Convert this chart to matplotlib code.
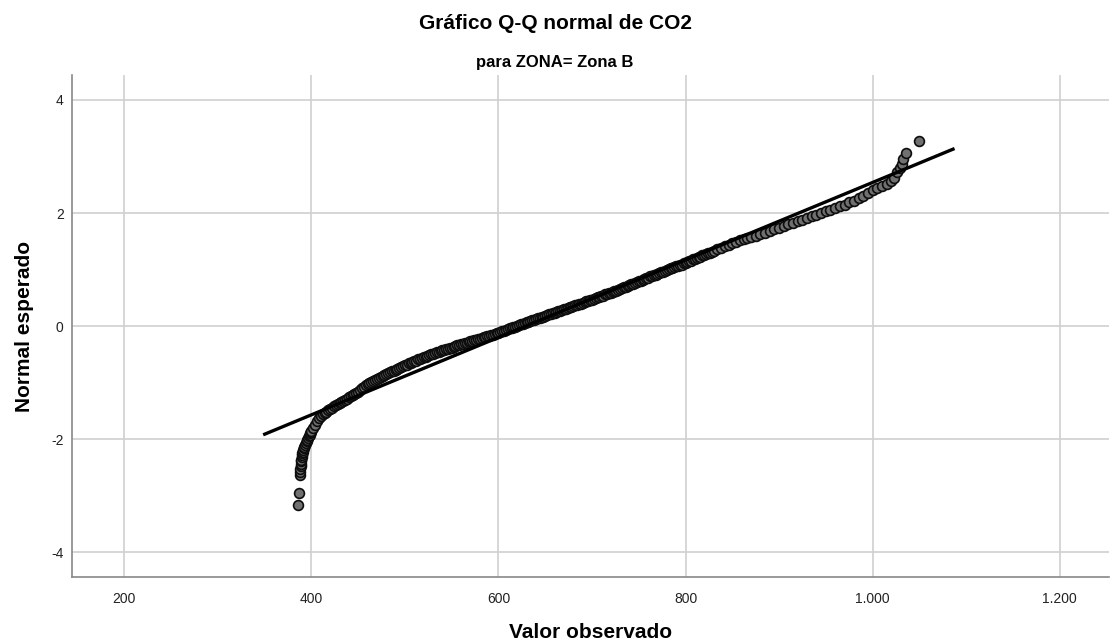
import numpy as np
import matplotlib
matplotlib.use("Agg")
import matplotlib.pyplot as plt

plt.rcParams['font.family'] = ['Liberation Sans', 'DejaVu Sans']
plt.rcParams['axes.unicode_minus'] = False

observed = [
    385.4, 386.4, 387.5, 387.8, 388, 388.3, 388.5, 388.8, 389, 389.4, 389.8, 390.3,
    390.8, 391.3, 391.9, 392.5, 393.2, 394, 394.8, 395.6, 396.4, 397.2, 398, 398.8, 399.5,
    400, 402, 404, 406, 408, 410, 412, 414, 416, 418, 420, 422, 424, 426, 428, 430,
    432, 434, 436, 438, 440, 442, 444, 446, 448, 450, 452, 454, 456, 458, 460, 462,
    464, 466, 468, 470, 472, 474, 476, 478, 480, 482, 484, 486, 488, 490, 492, 494,
    496, 498, 500, 502, 504, 506, 508, 510, 512, 514, 516, 518, 520, 522, 524, 526,
    528, 530, 532, 534, 536, 538, 540, 542, 544, 546, 548, 550, 552, 554, 556, 558,
    560, 562, 564, 566, 568, 570, 572, 574, 576, 578, 580, 582, 584, 586, 588, 590,
    592, 594, 596, 598, 600, 602, 604, 606, 608, 610, 612, 614, 616, 618, 620, 622,
    624, 626, 628, 630, 632, 634, 636, 638, 640, 642, 644, 646, 648, 650, 652, 654,
    656, 658, 660, 662, 664, 666, 668, 670, 672, 674, 676, 678, 680, 682, 684, 686,
    688, 690, 692, 694, 696, 698, 700, 702, 704, 706, 708, 710, 712, 714, 716, 718,
    720, 722, 724, 726, 728, 730, 732, 734, 736, 738, 740, 742, 744, 746, 748, 750,
    752, 754, 756, 758, 760, 762, 764, 766, 768, 770, 772, 774, 776, 778, 780, 782,
    784, 786, 788, 790, 792, 794, 796, 798, 800, 802, 804, 806, 808, 810, 812, 814,
    816, 818, 820, 822, 824, 826, 828, 830, 834, 838, 842, 846, 850, 854, 858, 862,
    866, 870, 875, 880, 885, 890, 895, 900, 905, 910, 915, 920, 925, 930, 935, 940,
    945, 950, 955, 960, 965, 970, 975, 980, 985, 990, 995, 1000, 1005, 1010, 1015,
    1020, 1023, 1026, 1029, 1031, 1033, 1036, 1050,
]
# expected normal scores, same order
expected = [
    -3.17, -2.96, -2.64, -2.58, -2.52, -2.47, -2.43, -2.39, -2.36, -2.32, -2.28, -2.25,
    -2.22, -2.19, -2.16, -2.13, -2.10, -2.07, -2.04, -2.01, -1.98, -1.95, -1.92, -1.89, -1.87,
    -1.86, -1.80, -1.74, -1.68, -1.63, -1.59, -1.56, -1.53, -1.51, -1.48, -1.46, -1.44,
    -1.42, -1.40, -1.38, -1.36, -1.34, -1.32, -1.30, -1.28, -1.26, -1.24, -1.22, -1.20,
    -1.18, -1.16, -1.13, -1.10, -1.08, -1.05, -1.03, -1.01, -0.99, -0.97, -0.95, -0.93,
    -0.92, -0.90, -0.88, -0.87, -0.85, -0.83, -0.82, -0.80, -0.79, -0.77, -0.76, -0.74,
    -0.72, -0.71, -0.69, -0.68, -0.66, -0.65, -0.64, -0.62, -0.61, -0.59, -0.58, -0.56,
    -0.55, -0.54, -0.53, -0.51, -0.50, -0.49, -0.48, -0.46, -0.45, -0.44, -0.43, -0.42,
    -0.41, -0.40, -0.39, -0.38, -0.37, -0.35, -0.34, -0.33, -0.32, -0.31, -0.30, -0.29,
    -0.28, -0.27, -0.26, -0.25, -0.24, -0.23, -0.22, -0.21, -0.20, -0.19, -0.18, -0.17,
    -0.16, -0.15, -0.14, -0.13, -0.12, -0.10, -0.09, -0.08, -0.07, -0.05, -0.04, -0.03,
    -0.02, -0.01, 0.00, 0.02, 0.03, 0.04, 0.05, 0.07, 0.08, 0.09, 0.10, 0.11, 0.12,
    0.14, 0.15, 0.16, 0.17, 0.18, 0.19, 0.21, 0.22, 0.23, 0.24, 0.25, 0.26, 0.27, 0.28,
    0.30, 0.31, 0.32, 0.33, 0.34, 0.35, 0.37, 0.38, 0.39, 0.40, 0.41, 0.42, 0.44, 0.45,
    0.46, 0.47, 0.48, 0.49, 0.51, 0.52, 0.53, 0.54, 0.56, 0.57, 0.58, 0.59, 0.61, 0.62,
    0.63, 0.64, 0.66, 0.67, 0.69, 0.70, 0.71, 0.72, 0.74, 0.75, 0.77, 0.78, 0.79, 0.80,
    0.82, 0.83, 0.85, 0.86, 0.88, 0.89, 0.90, 0.91, 0.93, 0.94, 0.95, 0.96, 0.98, 0.99,
    1.01, 1.02, 1.03, 1.04, 1.06, 1.07, 1.08, 1.09, 1.11, 1.12, 1.13, 1.15, 1.16, 1.18,
    1.19, 1.20, 1.22, 1.23, 1.25, 1.26, 1.27, 1.29, 1.30, 1.32, 1.33, 1.36, 1.39, 1.41,
    1.44, 1.47, 1.49, 1.52, 1.54, 1.56, 1.58, 1.60, 1.63, 1.65, 1.68, 1.71, 1.74, 1.77,
    1.80, 1.83, 1.86, 1.88, 1.91, 1.94, 1.97, 2.00, 2.03, 2.06, 2.09, 2.12, 2.15, 2.19,
    2.22, 2.26, 2.30, 2.36, 2.40, 2.44, 2.48, 2.52, 2.56, 2.62, 2.72, 2.80, 2.87, 2.96,
    3.07, 3.28,
]

# reference normal line
line_x = [350, 1086]
mean_co2 = 629
sd_co2 = 146

xticks = [200, 400, 600, 800, 1000, 1200]
xticklabels = ['200', '400', '600', '800', '1.000', '1.200']
yticks = [-4, -2, 0, 2, 4]

fig = plt.figure(figsize=(11.17, 6.42), dpi=100)
ax = fig.add_axes([0.0645, 0.101, 0.9285, 0.782])

ax.scatter(observed, expected, s=50, c='#707070', edgecolors='#0d0d0d',
           linewidths=1.2, zorder=3)
line_y = [(v - mean_co2) / sd_co2 for v in line_x]
ax.plot(line_x, line_y, color='black', linewidth=2.4, zorder=4)

ax.set_xlim(144, 1253)
ax.set_ylim(-4.44, 4.44)
ax.set_xticks(xticks)
ax.set_xticklabels(xticklabels)
ax.set_yticks(yticks)
ax.grid(True, color='#d0d0d0', linewidth=1.2)
ax.set_axisbelow(True)
ax.tick_params(axis='x', length=0, labelsize=10, colors='#222222', pad=11)
ax.tick_params(axis='y', length=0, labelsize=10, colors='#222222', pad=6)

for side in ['top', 'right']:
    ax.spines[side].set_visible(False)
for side in ['left', 'bottom']:
    ax.spines[side].set_color('#888888')
    ax.spines[side].set_linewidth(1.2)

ax.set_xlabel('Valor observado', fontsize=15, fontweight='bold')
ax.xaxis.label.set_va('center')
ax.xaxis.set_label_coords(0.5, -0.11)
ax.set_ylabel('Normal esperado', fontsize=15, fontweight='bold')
ax.yaxis.label.set_va('center')
ax.yaxis.set_label_coords(-0.046, 0.5)

fig.text(0.497, 0.963, 'Gráfico Q-Q normal de CO2', ha='center', va='center',
         fontsize=15, fontweight='bold')
fig.text(0.497, 0.903, 'para ZONA= Zona B', ha='center', va='center',
         fontsize=12, fontweight='bold')

fig.savefig('out.png', dpi=100)
